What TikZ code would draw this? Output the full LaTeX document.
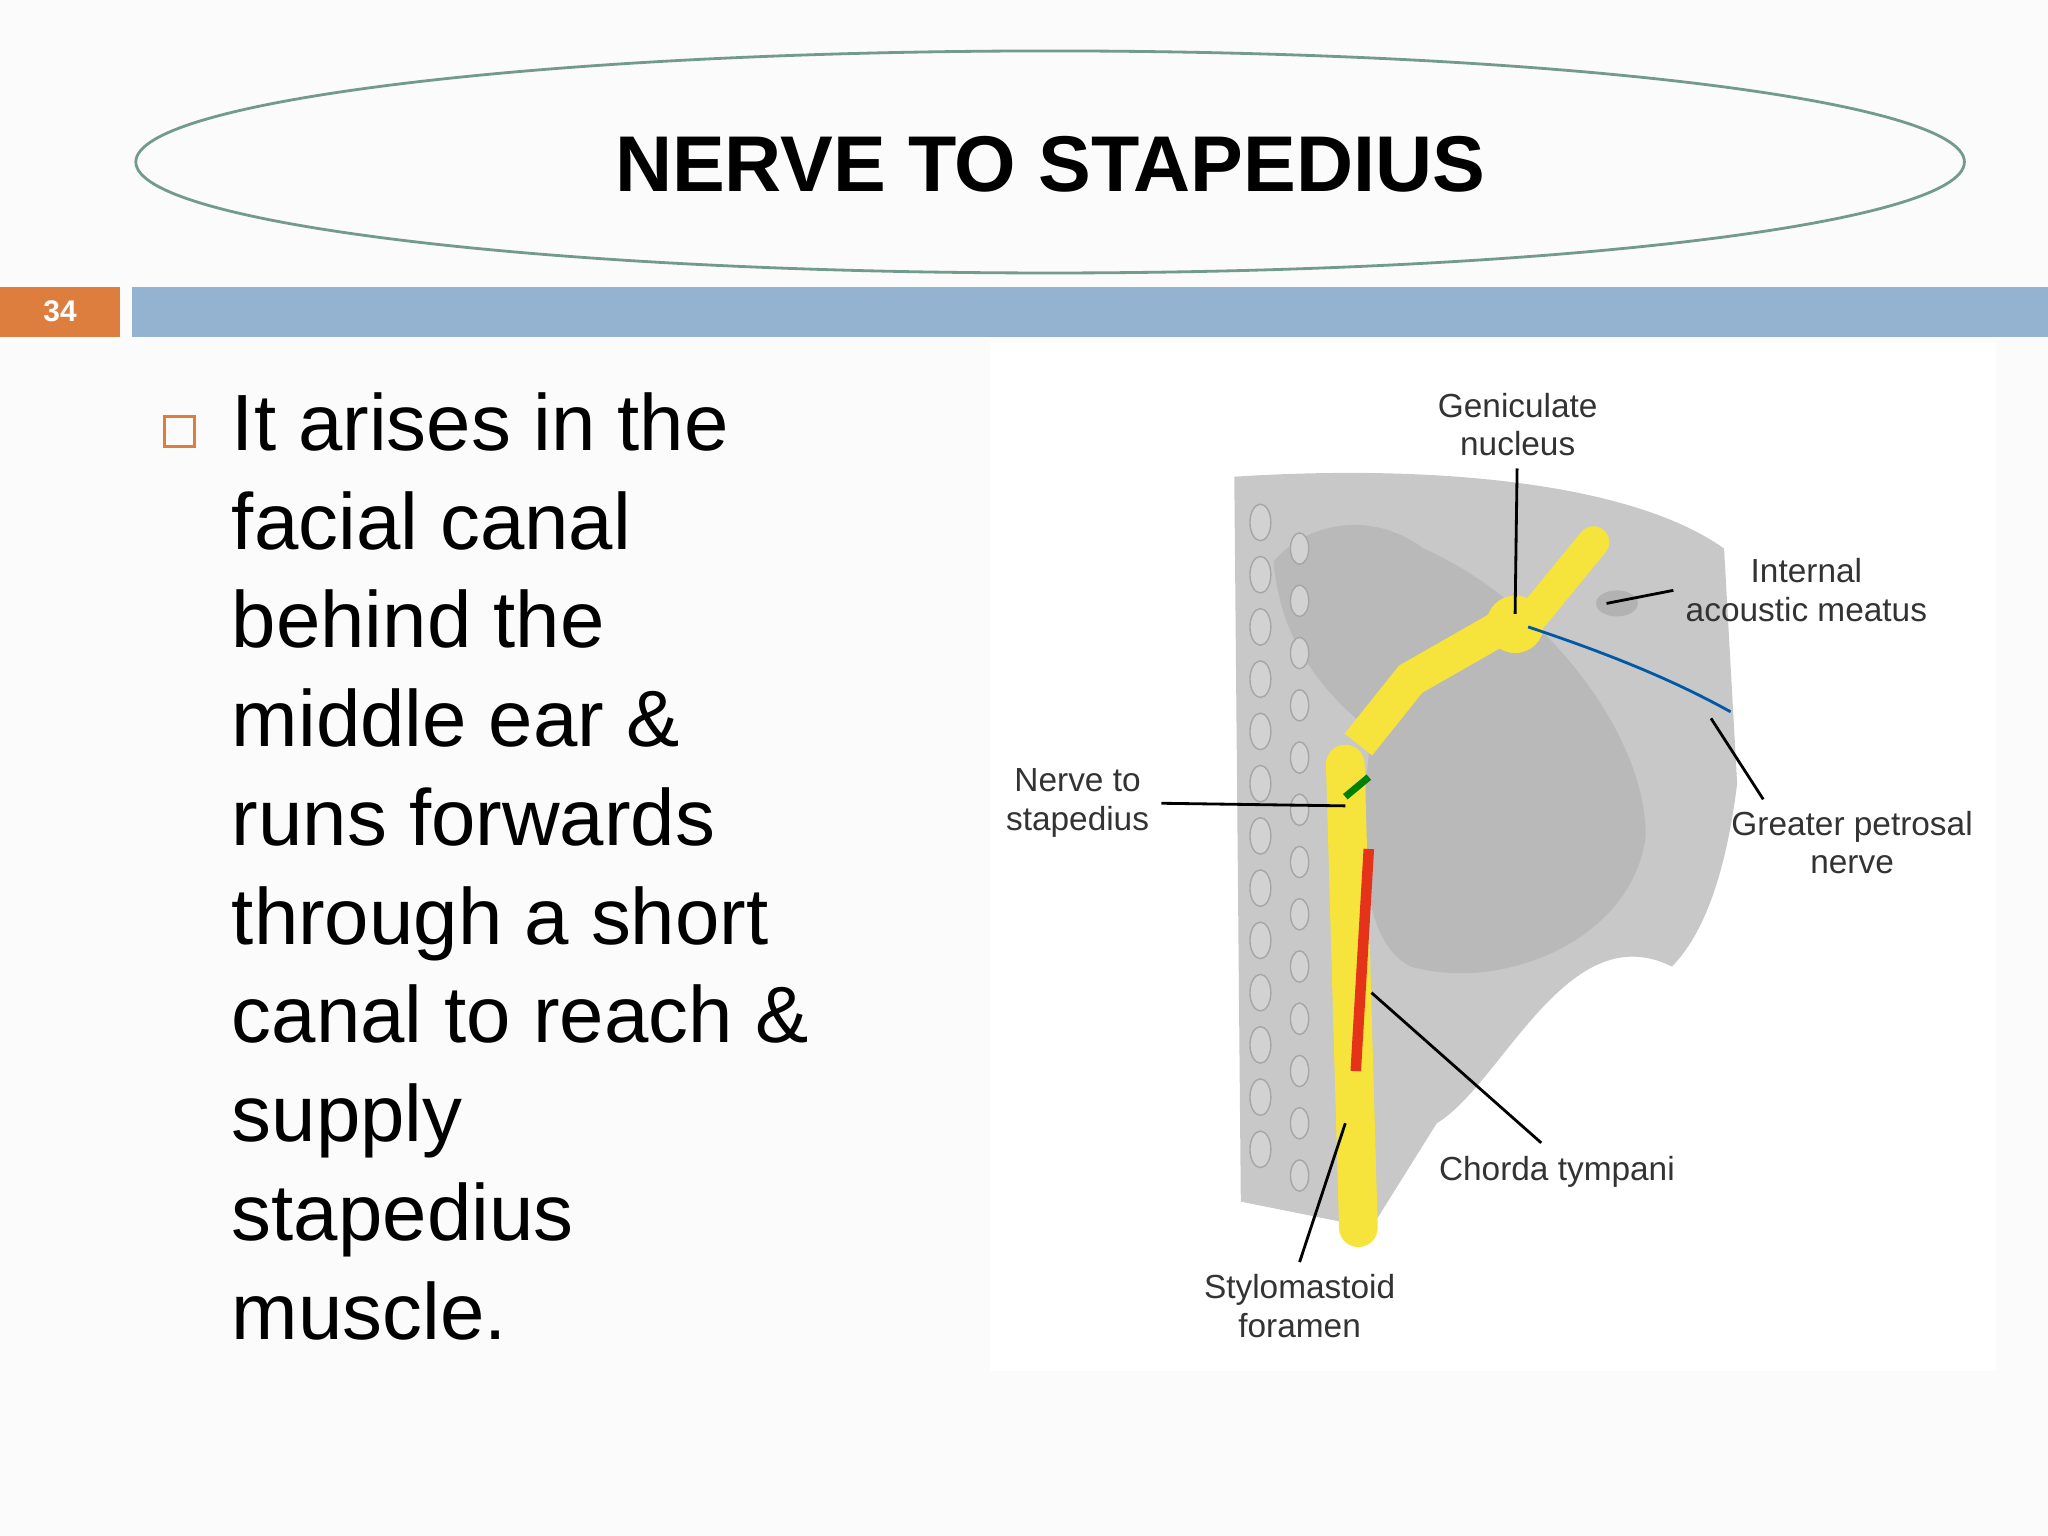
\documentclass[tikz,border=0pt]{standalone}
\usepackage{fontspec}
\setmainfont{Liberation Sans}
\usetikzlibrary{positioning, shapes.geometric}
\definecolor{rimgreen}{RGB}{115,155,140}
\definecolor{barblue}{RGB}{148,179,209}
\definecolor{numorange}{RGB}{222,126,62}
\definecolor{bonegray}{RGB}{200,200,200}
\definecolor{nerveyellow}{RGB}{246,228,60}
\begin{document}
\begin{tikzpicture}[x=0.01306cm, y=-0.01306cm,
    bodytext/.style={anchor=north west, align=left, font=\fontsize{22.7}{28.1}\selectfont, inner sep=0pt},
    tag/.style={font=\fontsize{9.5}{11}\selectfont, align=center, text=black!80},
    leader/.style={thick, black}]
    % page and margins
    \fill[white!97!gray] (0,0) rectangle (1568,1176);
    \useasboundingbox (0,0) rectangle (1568,1176);

    % title ellipse
    \node[draw=rimgreen, thick, ellipse, minimum width=1400*0.01306cm, minimum height=170*0.01306cm] (rim) at (804,124) {};
    \node[font=\fontsize{22.5}{28}\selectfont\bfseries] (title) at (804,126) {NERVE TO STAPEDIUS};

    % bars
    \fill[numorange] (0,220) rectangle (92,258);
    \node[font=\fontsize{8.5}{10}\selectfont\bfseries, text=white] (num) at (46,238) {34};
    \fill[barblue] (101,220) rectangle (1568,258);

    % bullet text
    \draw[numorange, thick] (126,319) rectangle (149,342);
    \node[bodytext] (body) at (177,300) {It arises in the\\facial canal\\behind the\\middle ear \&\\runs forwards\\through a short\\canal to reach \&\\supply\\stapedius\\muscle.};

    % figure: bone and cavity
    \fill[white] (758,262) rectangle (1528,1050);
    \fill[bonegray] (945,365) .. controls (1100,355) and (1250,370) .. (1320,420)
        -- (1330,600) .. controls (1320,680) and (1300,720) .. (1280,740)
        .. controls (1200,700) and (1150,830) .. (1100,860)
        -- (1050,940) -- (950,920) -- cycle;
    \fill[gray!55] (975,430) .. controls (1000,400) and (1050,390) .. (1090,420)
        .. controls (1180,460) and (1260,560) .. (1260,640)
        .. controls (1250,720) and (1150,760) .. (1080,740)
        .. controls (1040,720) and (1040,640) .. (1050,560)
        .. controls (1000,520) and (980,480) .. cycle;
    \foreach \yy in {400,440,...,880}{
        \draw[gray!70, fill=gray!35] (965,\yy) ellipse (8 and 14);
        \draw[gray!70, fill=gray!35] (995,\yy+20) ellipse (7 and 12);
    }
    % nerves
    \draw[nerveyellow, line width=11pt, line cap=round] (1030,585) -- (1040,940);
    \draw[nerveyellow, line width=10pt] (1040,570) -- (1080,520) -- (1150,480);
    \fill[nerveyellow] (1160,478) circle (22);
    \draw[nerveyellow, line width=9pt, line cap=round] (1175,470) -- (1220,415);
    \draw[teal!70!blue, thick] (1170,480) .. controls (1230,500) and (1280,520) .. (1325,545);
    \draw[red!60!brown, line width=3pt] (1048,650) -- (1038,820);
    \draw[green!50!black, line width=2pt] (1030,610) -- (1048,595);
    \fill[gray!60] (1238,462) ellipse (16 and 10);

    % labels and leaders
    \node[tag] (gen) at (1162,325) {Geniculate\\nucleus};
    \node[tag] (iam) at (1383,452) {Internal\\acoustic meatus};
    \node[tag] (gpn) at (1418,645) {Greater petrosal\\nerve};
    \node[tag] (nts) at (825,615) {Nerve to\\stapedius};
    \node[tag] (ct) at (1192,897) {Chorda tympani};
    \node[tag] (smf) at (995,1000) {Stylomastoid\\foramen};
    \coordinate (genend) at (1160,470);
    \coordinate (iamend) at (1230,462);
    \coordinate (gpnstart) at (1350,612);
    \coordinate (gpnend) at (1310,550);
    \coordinate (ntsend) at (1030,617);
    \coordinate (ctstart) at (1180,875);
    \coordinate (ctend) at (1050,760);
    \coordinate (smfend) at (1030,860);
    \draw[leader] (gen) -- (genend);
    \draw[leader] (iam.west) -- (iamend);
    \draw[leader] (gpnstart) -- (gpnend);
    \draw[leader] (nts.east) -- (ntsend);
    \draw[leader] (ctstart) -- (ctend);
    \draw[leader] (smf.north) -- (smfend);
\end{tikzpicture}
\end{document}
